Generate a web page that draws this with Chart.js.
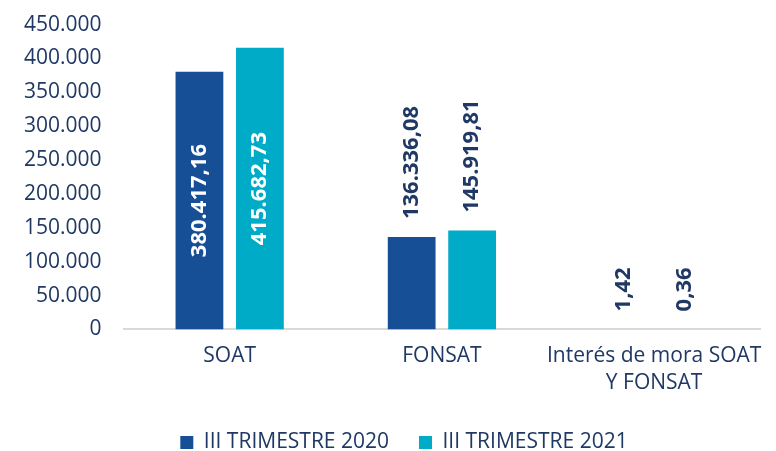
<!DOCTYPE html>
<html>
<head>
<meta charset="utf-8">
<script src="https://cdn.jsdelivr.net/npm/chart.js@4/dist/chart.umd.min.js"></script>
<style>
  html, body { margin: 0; padding: 0; background: #fff; overflow: hidden; }
  #wrap { width: 776px; height: 451px; overflow: hidden; }
  #chart { display: block; margin-top: -10px; }
</style>
</head>
<body>
<div id="wrap"><canvas id="chart" width="776" height="461"></canvas></div>
<script>
// Chart data
const categories = ["SOAT", "FONSAT", ["Interés de mora SOAT", "Y FONSAT"]];
const seriesNames = ["III TRIMESTRE 2020", "III TRIMESTRE 2021"];
const values2020 = [380417.16, 136336.08, 1.42];
const values2021 = [415682.73, 145919.81, 0.36];
const yTicks = [0, 50000, 100000, 150000, 200000, 250000, 300000, 350000, 400000, 450000];

const textColor = "#1f3864";
const fontFamily = "'Open Sans', 'Noto Sans', sans-serif";

// Spanish number format: 380.417,16
function fmtLabel(v) {
  let parts = v.toFixed(2).split(".");
  let intPart = parts[0].replace(/\B(?=(\d{3})+(?!\d))/g, ".");
  return intPart + "," + parts[1];
}
function fmtTick(v) {
  return String(v).replace(/\B(?=(\d{3})+(?!\d))/g, ".");
}

// Rotated value labels, inside big bars, above small ones
const barLabels = {
  id: "barLabels",
  afterDatasetsDraw(chart) {
    const c = chart.ctx;
    c.save();
    c.font = "bold 22px " + fontFamily;
    c.textBaseline = "middle";
    chart.data.datasets.forEach((ds, i) => {
      chart.getDatasetMeta(i).data.forEach((bar, j) => {
        const txt = fmtLabel(ds.data[j]);
        const w = c.measureText(txt).width;
        const h = bar.base - bar.y;
        c.save();
        c.translate(bar.x, 0);
        c.rotate(-Math.PI / 2);
        if (h > w + 20) {
          c.fillStyle = "#ffffff";
          c.textAlign = "center";
          c.fillText(txt, -(bar.y + h / 2), 0);
        } else {
          c.fillStyle = textColor;
          c.textAlign = "left";
          c.fillText(txt, -(bar.y - 18), 0);
        }
        c.restore();
      });
    });
    c.restore();
  }
};

// nudge the legend a bit right and up, like the original
const legendShift = {
  id: "legendShift",
  afterLayout(chart) {
    chart.legend.left += 20;
    chart.legend.right += 20;
    chart.legend.top -= 8;
    chart.legend.bottom -= 8;
  }
};

const ctx = document.getElementById("chart").getContext("2d");
const chart = new Chart(ctx, {
  type: "bar",
  data: {
    labels: categories,
    datasets: [
      { label: seriesNames[0], data: values2020, backgroundColor: "#174f97" },
      { label: seriesNames[1], data: values2021, backgroundColor: "#00abc8" }
    ]
  },
  options: {
    responsive: false,
    animation: false,
    layout: { padding: { left: 2, right: 10, top: 0, bottom: -20 } },
    datasets: {
      bar: { categoryPercentage: 0.57, barPercentage: 0.79 }
    },
    scales: {
      x: {
        grid: { display: false, drawTicks: false },
        border: { display: true, color: "#d9d9d9", width: 2 },
        ticks: {
          color: textColor,
          font: { family: fontFamily, size: 21, lineHeight: 1.3 },
          padding: 13,
          maxRotation: 0,
          autoSkip: false
        }
      },
      y: {
        min: 0,
        max: 450000,
        afterBuildTicks(axis) {
          axis.ticks = yTicks.map(v => ({ value: v }));
        },
        grid: { display: false, drawTicks: false },
        border: { display: false },
        ticks: {
          color: textColor,
          font: { family: fontFamily, size: 21 },
          padding: 22,
          callback: v => fmtTick(v)
        }
      }
    },
    plugins: {
      legend: {
        position: "bottom",
        labels: {
          color: textColor,
          font: { family: fontFamily, size: 21 },
          boxWidth: 13,
          boxHeight: 13,
          padding: 30
        }
      },
      tooltip: { enabled: false }
    }
  },
  plugins: [barLabels, legendShift]
});
</script>
</body>
</html>
